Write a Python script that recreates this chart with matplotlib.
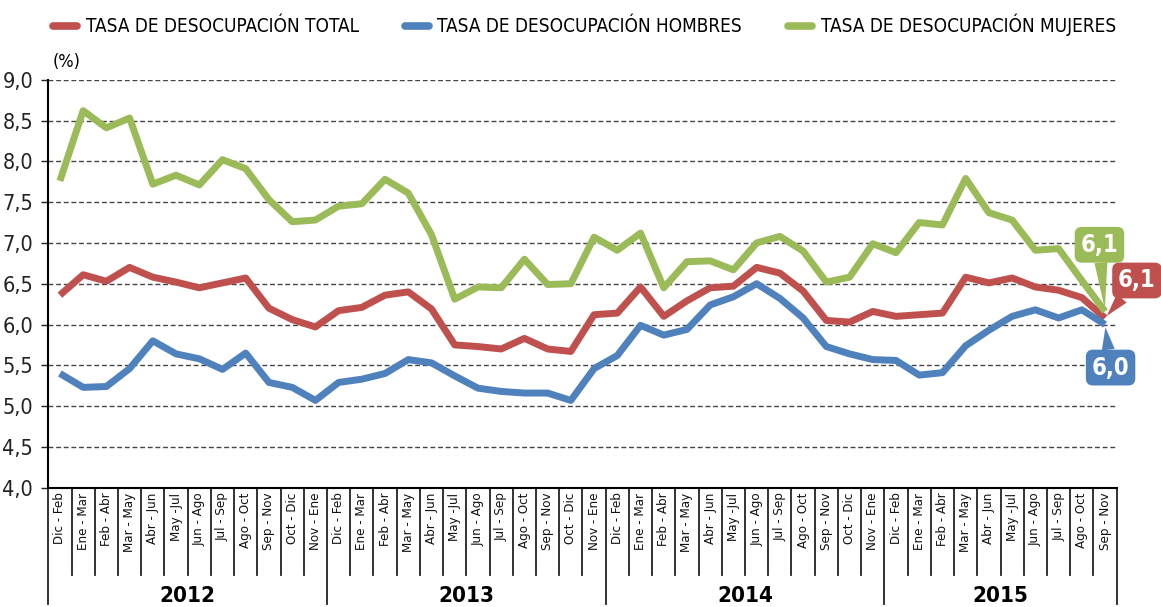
import matplotlib
matplotlib.use("Agg")
import matplotlib.pyplot as plt
import matplotlib.transforms as mtransforms

# ---------------- data ----------------
periods_base = ["Dic - Feb", "Ene - Mar", "Feb - Abr", "Mar - May", "Abr - Jun", "May -Jul",
                "Jun - Ago", "Jul - Sep", "Ago - Oct", "Sep - Nov", "Oct - Dic", "Nov - Ene"]
years = ["2012", "2013", "2014", "2015"]
periods_per_year = [12, 12, 12, 10]
periods = []
for n in periods_per_year:
    periods += periods_base[:n]

total = [6.36, 6.61, 6.53, 6.70, 6.58, 6.52, 6.45, 6.51, 6.57, 6.20, 6.06, 5.97,
         6.17, 6.21, 6.36, 6.40, 6.19, 5.75, 5.73, 5.70, 5.83, 5.70, 5.67, 6.12,
         6.14, 6.46, 6.10, 6.29, 6.45, 6.47, 6.70, 6.63, 6.41, 6.05, 6.03, 6.16,
         6.10, 6.12, 6.14, 6.58, 6.51, 6.57, 6.46, 6.42, 6.33, 6.08]
hombres = [5.40, 5.23, 5.24, 5.46, 5.80, 5.64, 5.58, 5.45, 5.65, 5.29, 5.23, 5.07,
           5.29, 5.33, 5.40, 5.57, 5.53, 5.37, 5.22, 5.18, 5.16, 5.16, 5.07, 5.46,
           5.62, 5.99, 5.87, 5.94, 6.24, 6.34, 6.50, 6.32, 6.08, 5.73, 5.64, 5.57,
           5.56, 5.38, 5.41, 5.74, 5.93, 6.10, 6.18, 6.08, 6.18, 6.00]
mujeres = [7.76, 8.62, 8.41, 8.53, 7.72, 7.83, 7.71, 8.02, 7.91, 7.53, 7.26, 7.28,
           7.45, 7.48, 7.78, 7.61, 7.10, 6.31, 6.46, 6.45, 6.80, 6.49, 6.50, 7.07,
           6.91, 7.12, 6.45, 6.77, 6.78, 6.67, 7.00, 7.08, 6.90, 6.52, 6.58, 6.99,
           6.88, 7.25, 7.22, 7.79, 7.37, 7.28, 6.91, 6.93, 6.54, 6.16]

series_names = ["TASA DE DESOCUPACIÓN TOTAL", "TASA DE DESOCUPACIÓN HOMBRES",
                "TASA DE DESOCUPACIÓN MUJERES"]
last_labels = ["6,1", "6,0", "6,1"]
yticks = [4.0, 4.5, 5.0, 5.5, 6.0, 6.5, 7.0, 7.5, 8.0, 8.5, 9.0]

# ---------------- style ----------------
RED = "#C0504D"
BLUE = "#4F81BD"
GREEN = "#9BBB59"
plt.rcParams["font.family"] = ["DejaVu Sans"]
plt.rcParams["font.stretch"] = "condensed"

fig = plt.figure(figsize=(11.61, 6.07), dpi=100)
ax = fig.add_axes([0.0416, 0.1965, 0.9202, 0.6722])

x = list(range(len(periods)))
colors = [RED, BLUE, GREEN]
handles = []
for vals, c, name in zip([total, hombres, mujeres], colors, series_names):
    ln, = ax.plot(x, vals, color=c, lw=5, solid_joinstyle="round",
                  solid_capstyle="butt", label=name, zorder=3)
    handles.append(ln)

ax.set_xlim(-0.5, len(periods) - 0.5)
ax.set_ylim(4.0, 9.0)
ax.set_yticks(yticks)
ax.set_yticklabels([f"{v:.1f}".replace(".", ",") for v in yticks], fontsize=15.5)
ax.tick_params(axis="y", direction="out", length=5, width=1, pad=6, colors="#222222")
ax.tick_params(axis="x", bottom=False, labelbottom=False)
for v in yticks[1:]:
    ax.axhline(v, color="#444444", lw=1.0, ls=(0, (3.5, 2)), zorder=1)

for s in ["top", "right"]:
    ax.spines[s].set_visible(False)
ax.spines["left"].set_linewidth(1.5)
ax.spines["bottom"].set_linewidth(1.5)

# category labels and separators
trans = mtransforms.blended_transform_factory(ax.transData, ax.transAxes)
for i, lab in enumerate(periods):
    ax.text(i, -0.012, lab, rotation=90, ha="center", va="top", fontsize=9.5,
            transform=trans, color="#111111")
year_bounds = [0]
for n in periods_per_year:
    year_bounds.append(year_bounds[-1] + n)
for k in range(len(periods) + 1):
    y1 = -0.285 if k in year_bounds else -0.213
    ax.plot([k - 0.5, k - 0.5], [0, y1], color="#222222", lw=1.3,
            transform=trans, clip_on=False)
for yr, a, b in zip(years, year_bounds[:-1], year_bounds[1:]):
    ax.text((a + b - 1) / 2, -0.266, yr, ha="center", va="center", fontsize=16,
            fontweight="bold", transform=trans)

# (%) label
fig.text(0.045, 1 - 62 / 607, "(%)", fontsize=13, va="center", ha="left")

# legend
leg = fig.legend(handles=handles, labels=series_names, loc="center left",
                 bbox_to_anchor=(0.0457, 1 - 25 / 607), ncol=3, frameon=False,
                 fontsize=13.6, handlelength=1.27, handletextpad=0.45, columnspacing=2.45,
                 borderaxespad=0, borderpad=0)
for h in leg.legend_handles:
    h.set_linewidth(5.5)
    h.set_solid_capstyle("round")

# end-point callouts
last = len(periods) - 1
offsets = [(23, 27), (4, -31), (-4, 48)]
for vals, c, lab, off in zip([total, hombres, mujeres], colors, last_labels, offsets):
    ax.annotate(lab, xy=(last, vals[-1]), xytext=off, textcoords="offset points",
                ha="center", va="center", fontsize=17, fontweight="bold", color="white",
                bbox=dict(boxstyle="round,pad=0.25,rounding_size=0.3", fc=c, ec="none"),
                arrowprops=dict(arrowstyle="wedge,tail_width=0.55,shrink_factor=0.5",
                                fc=c, ec="none", shrinkA=0, shrinkB=2),
                annotation_clip=False, zorder=5)

fig.savefig("out.png", dpi=100)
